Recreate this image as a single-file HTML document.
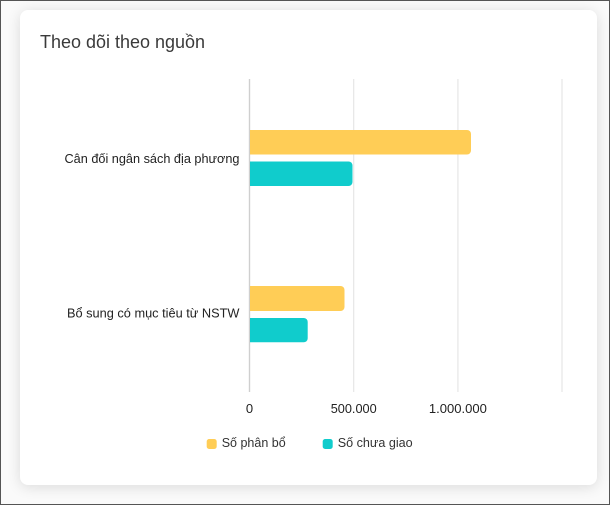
<!DOCTYPE html>
<html><head><meta charset="utf-8"><style>
html,body{margin:0;padding:0;background:#fff;}
.wrap{position:relative;width:610px;height:505px;box-sizing:border-box;border:1px solid #555;background:#fafafa;overflow:hidden;}
.card{position:absolute;left:19px;top:9px;width:577px;height:475px;background:#fff;border-radius:8px;box-shadow:0 2px 14px rgba(0,0,0,0.13);}
svg{position:absolute;left:-1px;top:-1px;}
text{font-family:"Liberation Sans",Arial,sans-serif;}
</style></head><body>
<div class="wrap">
<div class="card"></div>
<svg width="610" height="505" viewBox="0 0 610 505">
<text x="40" y="48" font-size="18" fill="#3a3a3a" textLength="165" lengthAdjust="spacingAndGlyphs">Theo dõi theo nguồn</text>
<g stroke="#e6e6e6" stroke-width="1.2">
<line x1="353.7" y1="79" x2="353.7" y2="392"/>
<line x1="457.9" y1="79" x2="457.9" y2="392"/>
<line x1="562" y1="79" x2="562" y2="392"/>
</g>
<line x1="249.5" y1="79" x2="249.5" y2="392" stroke="#cfcfcf" stroke-width="1.4"/>
<path d="M250,130 H467 a4,4 0 0 1 4,4 V150.5 a4,4 0 0 1 -4,4 H250 Z" fill="#ffcd56"/>
<path d="M250,161.5 H348.5 a4,4 0 0 1 4,4 V182 a4,4 0 0 1 -4,4 H250 Z" fill="#10cccc"/>
<path d="M250,286 H340.5 a4,4 0 0 1 4,4 V307 a4,4 0 0 1 -4,4 H250 Z" fill="#ffcd56"/>
<path d="M250,318 H303.7 a4,4 0 0 1 4,4 V338.3 a4,4 0 0 1 -4,4 H250 Z" fill="#10cccc"/>
<text x="239.5" y="163" font-size="13" fill="#222" text-anchor="end" textLength="175" lengthAdjust="spacingAndGlyphs">Cân đối ngân sách địa phương</text>
<text x="239.5" y="317.5" font-size="13" fill="#222" text-anchor="end" textLength="172.5" lengthAdjust="spacingAndGlyphs">Bổ sung có mục tiêu từ NSTW</text>
<text x="249.5" y="413" font-size="13" fill="#222" text-anchor="middle">0</text>
<text x="353.7" y="413" font-size="13" fill="#222" text-anchor="middle" textLength="46" lengthAdjust="spacingAndGlyphs">500.000</text>
<text x="457.9" y="413" font-size="13" fill="#222" text-anchor="middle" textLength="58" lengthAdjust="spacingAndGlyphs">1.000.000</text>
<rect x="206.7" y="439" width="10" height="10" rx="2.5" fill="#ffcd56"/>
<text x="221.7" y="447" font-size="13" fill="#333" textLength="64" lengthAdjust="spacingAndGlyphs">Số phân bổ</text>
<rect x="322.7" y="439" width="10" height="10" rx="2.5" fill="#10cccc"/>
<text x="337.7" y="447" font-size="13" fill="#333" textLength="75" lengthAdjust="spacingAndGlyphs">Số chưa giao</text>
</svg>
</div>
</body></html>
